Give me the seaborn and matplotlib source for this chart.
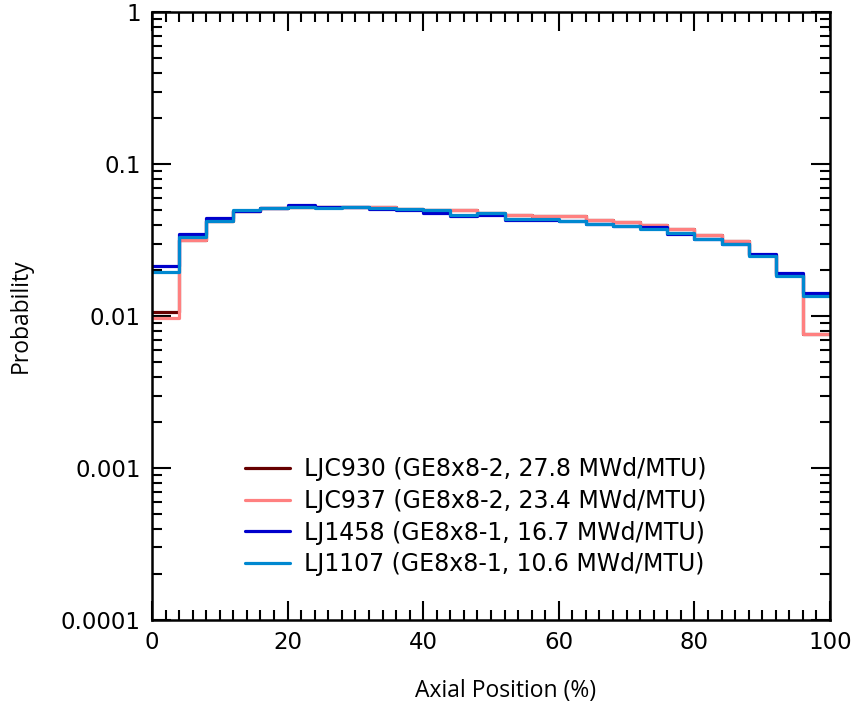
import numpy as np
import pandas as pd
import seaborn as sns
import matplotlib.pyplot as plt
from matplotlib.ticker import LogLocator, MultipleLocator, FixedFormatter, FixedLocator

# bin centres of the axial position histogram (4 % wide bins)
axial_pos = [2, 6, 10, 14, 18, 22, 26, 30, 34, 38, 42, 46, 50,
             54, 58, 62, 66, 70, 74, 78, 82, 86, 90, 94, 98]

ljc930 = [0.0106, 0.0318, 0.0420, 0.0490, 0.0515, 0.0520, 0.0520, 0.0520, 0.0518, 0.0508,
          0.0500, 0.0497, 0.0480, 0.0465, 0.0452, 0.0455, 0.0428, 0.0414, 0.0400, 0.0373,
          0.0341, 0.0311, 0.0252, 0.0186, 0.0076]
ljc937 = [0.0097, 0.0318, 0.0420, 0.0490, 0.0515, 0.0520, 0.0520, 0.0520, 0.0518, 0.0508,
          0.0500, 0.0497, 0.0480, 0.0465, 0.0452, 0.0455, 0.0428, 0.0414, 0.0400, 0.0373,
          0.0341, 0.0311, 0.0252, 0.0186, 0.0076]
lj1458 = [0.0213, 0.0349, 0.0443, 0.0493, 0.0516, 0.0536, 0.0520, 0.0518, 0.0510, 0.0495,
          0.0478, 0.0452, 0.0460, 0.0428, 0.0430, 0.0421, 0.0404, 0.0393, 0.0387, 0.0348,
          0.0322, 0.0297, 0.0258, 0.0191, 0.0141]
lj1107 = [0.0194, 0.0330, 0.0420, 0.0495, 0.0516, 0.0518, 0.0516, 0.0518, 0.0515, 0.0510,
          0.0495, 0.0465, 0.0478, 0.0438, 0.0433, 0.0421, 0.0404, 0.0393, 0.0372, 0.0350,
          0.0322, 0.0297, 0.0249, 0.0184, 0.0135]

labels = ['LJC930 (GE8x8-2, 27.8 MWd/MTU)', 'LJC937 (GE8x8-2, 23.4 MWd/MTU)',
          'LJ1458 (GE8x8-1, 16.7 MWd/MTU)', 'LJ1107 (GE8x8-1, 10.6 MWd/MTU)']
colors = ['#660000', '#ff8080', '#0000cc', '#0088d0']

y_ticks = [0.0001, 0.001, 0.01, 0.1, 1]
y_ticklabels = ['0.0001', '0.001', '0.01', '0.1', '1']

sns.set_style('ticks', rc={'axes.edgecolor': 'black', 'text.color': 'black',
                           'axes.labelcolor': 'black', 'xtick.color': 'black',
                           'ytick.color': 'black'})
plt.rcParams['font.family'] = ['DejaVu Sans']

fig = plt.figure(figsize=(8.56, 7.12), dpi=100)
ax = fig.add_axes([0.1776, 0.1292, 0.792, 0.8538])

edges = list(range(0, 101, 4))
for vals, lab, col in zip([ljc930, ljc937, lj1458, lj1107], labels, colors):
    df = pd.DataFrame({'pos': axial_pos, 'prob': vals})
    sns.histplot(data=df, x='pos', weights='prob', bins=edges, element='step', fill=False,
                 color=col, linewidth=2.3, label=lab, ax=ax)

ax.set_yscale('log')
ax.set_xlim(0, 100)
ax.set_ylim(0.0001, 1)
ax.yaxis.set_major_locator(FixedLocator(y_ticks))
ax.yaxis.set_major_formatter(FixedFormatter(y_ticklabels))
ax.yaxis.set_minor_locator(LogLocator(base=10, subs=np.arange(2, 10)))
ax.xaxis.set_major_locator(MultipleLocator(20))
ax.xaxis.set_minor_locator(MultipleLocator(2))

ax.tick_params(which='both', direction='in', top=True, right=True, width=1.5, labelsize=16.5)
ax.tick_params(which='major', length=14, pad=8)
ax.tick_params(which='minor', length=7)
for s in ax.spines.values():
    s.set_linewidth(1.8)

lab_font = {'family': ['Open Sans', 'DejaVu Sans'], 'size': 16.5}
ax.set_xlabel('Axial Position (%)', fontdict=lab_font)
ax.set_ylabel('Probability', fontdict=lab_font)
ax.xaxis.set_label_coords(0.522, -0.097)
ax.yaxis.set_label_coords(-0.176, 0.5)

ax.legend(loc='center', bbox_to_anchor=(0.478, 0.17), frameon=False, fontsize=17,
          handlelength=1.9, labelspacing=0.33, handletextpad=0.6)

fig.savefig('out.png', dpi=100)
